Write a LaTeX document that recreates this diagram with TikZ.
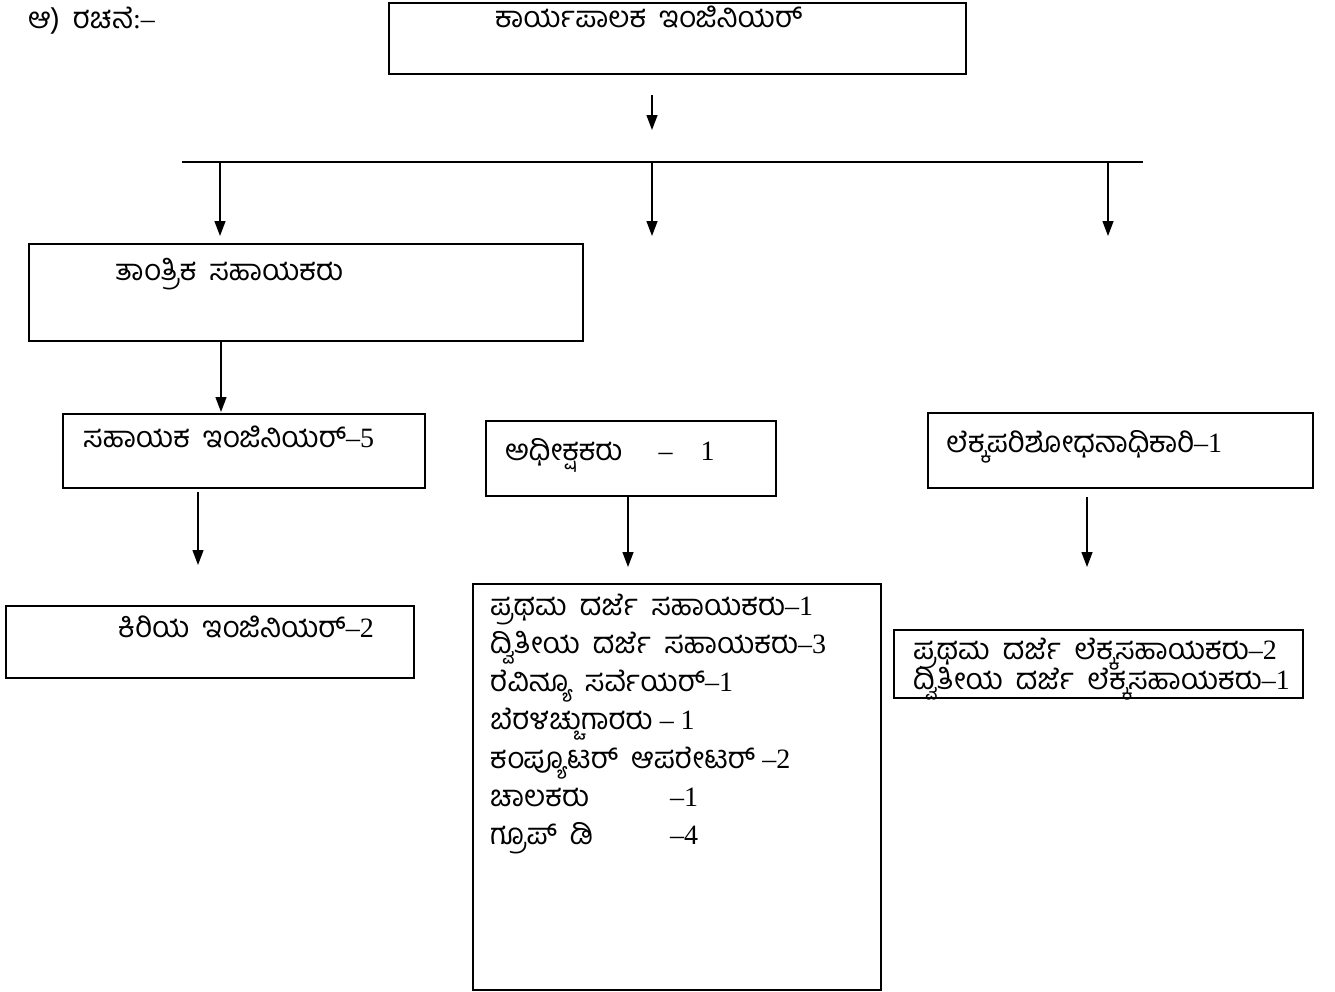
\documentclass[tikz,border=0pt]{standalone}
\usepackage{fontspec}
\setmainfont{Liberation Serif}
\newfontfamily\knfont[Script=Kannada, Scale=1.05, WordSpace=1.8]{Hind Mysuru}
\newcommand{\kn}[1]{{\knfont #1}}
\usetikzlibrary{arrows.meta}
\tikzset{
    box/.style 2 args={draw=black, line width=1.5pt, anchor=north west,
        inner sep=0pt, minimum width=#1, minimum height=#2},
    txt/.style={anchor=west, inner sep=0pt, text height=17pt, text depth=7pt,
        font=\fontsize{28}{32}\selectfont},
    bus/.style={draw=black, line width=1.4pt},
    link/.style={draw=black, line width=1.3pt,
        -{Triangle[length=15pt,width=11pt]}}
}

\begin{document}
\begin{tikzpicture}[x=1pt, y=-1pt]
\useasboundingbox (0,0) rectangle (1335,991);
\node[txt] (title) at (28,23) {\kn{ಆ)\ ರಚನೆ}:–};
% boxes
\node[box={577pt}{71pt}] (exec) at (388,2) {};
\node[txt] (exect) at (495,22) {\kn{ಕಾರ್ಯಪಾಲಕ ಇಂಜಿನಿಯರ್}};
\node[box={554pt}{97pt}] (tech) at (28,243) {};
\node[txt] (techt) at (115,275) {\kn{ತಾಂತ್ರಿಕ ಸಹಾಯಕರು}};
\node[box={362pt}{74pt}] (asst) at (62,413) {};
\node[txt] (asstt) at (83,442) {\kn{ಸಹಾಯಕ ಇಂಜಿನಿಯರ್}–5};
\node[box={408pt}{72pt}] (junior) at (5,605) {};
\node[txt] (juniort) at (118,632) {\kn{ಕಿರಿಯ ಇಂಜಿನಿಯರ್}–2};
\node[box={290pt}{75pt}] (supt) at (485,420) {};
\node[txt] (suptt) at (505,455) {\kn{ಅಧೀಕ್ಷಕರು}\hspace{36pt}–\hspace{28pt}1};
\node[box={408pt}{406pt}] (staff) at (472,583) {};
\foreach \t [count=\i] in {%
    {\kn{ಪ್ರಥಮ ದರ್ಜೆ ಸಹಾಯಕರು}–1},
    {\kn{ದ್ವಿತೀಯ ದರ್ಜೆ ಸಹಾಯಕರು}–3},
    {\kn{ರೆವಿನ್ಯೂ ಸರ್ವೆಯರ್}–1},
    {\kn{ಬೆರಳಚ್ಚುಗಾರರು} – 1},
    {\kn{ಕಂಪ್ಯೂಟರ್ ಆಪರೇಟರ್} –2},
    {\makebox[180pt][l]{\kn{ಚಾಲಕರು}}–1},
    {\makebox[180pt][l]{\kn{ಗ್ರೂಪ್ ಡಿ}}–4}}
  \node[txt] (staff\i) at (490,{610+38.3*(\i-1)}) {\t};
\node[box={385pt}{75pt}] (audit) at (927,412) {};
\node[txt] (auditt) at (946,447) {\kn{ಲೆಕ್ಕಪರಿಶೋಧನಾಧಿಕಾರಿ}–1};
\node[box={409pt}{68pt}] (acct) at (893,629) {};
\node[txt] (acct1) at (913,654) {\kn{ಪ್ರಥಮ ದರ್ಜೆ ಲೆಕ್ಕಸಹಾಯಕರು}–2};
\node[txt] (acct2) at (913,684) {\kn{ದ್ವಿತೀಯ ದರ್ಜೆ ಲೆಕ್ಕಸಹಾಯಕರು}–1};
% connector ends
\coordinate (execout) at (652,95);
\coordinate (execin) at (652,130);
\coordinate (busl) at (182,162);
\coordinate (busr) at (1143,162);
\coordinate (techin) at (220,236);
\coordinate (midin) at (652,236);
\coordinate (auditin) at (1108,236);
\coordinate (techout) at (221,340);
\coordinate (asstin) at (221,412);
\coordinate (asstout) at (198,492);
\coordinate (juniorin) at (198,565);
\coordinate (suptout) at (628,497);
\coordinate (staffin) at (628,567);
\coordinate (auditout) at (1087,497);
\coordinate (acctin) at (1087,567);
\draw[style={bus}] (busl) -- (busr);
\draw[style={link}] (execout) -- (execin);
\draw[style={link}] (techin |- busl) -- (techin);
\draw[style={link}] (midin |- busl) -- (midin);
\draw[style={link}] (auditin |- busl) -- (auditin);
\draw[style={link}] (techout) -- (asstin);
\draw[style={link}] (asstout) -- (juniorin);
\draw[style={link}] (suptout) -- (staffin);
\draw[style={link}] (auditout) -- (acctin);
\end{tikzpicture}
\end{document}
